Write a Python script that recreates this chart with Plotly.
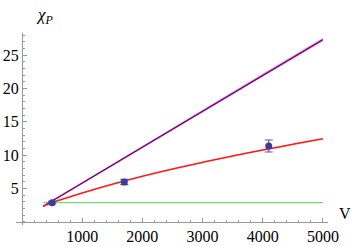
import plotly.graph_objects as go

# data points (V, chi_P, error)
pt_V = [500, 1700, 4100]
pt_chi = [2.85, 5.95, 11.35]
pt_err = [0.2, 0.4, 0.9]

# purple fit line
pur_V = [350, 1000, 2000, 3000, 4000, 5000]
pur_chi = [2.3, 5.8, 11.2, 16.6, 22.0, 27.3]
pur_band = [0.05, 0.1, 0.15, 0.2, 0.25, 0.3]

# red fit curve
red_V = [350, 500, 750, 1000, 1500, 2000, 2500, 3000, 3500, 4000, 4500, 5000]
red_chi = [2.3, 2.85, 3.6, 4.3, 5.6, 6.8, 7.9, 8.9, 9.85, 10.75, 11.6, 12.45]
red_band = [0.05, 0.05, 0.05, 0.06, 0.07, 0.08, 0.09, 0.1, 0.11, 0.12, 0.13, 0.14]

# green constant line
grn_V = [350, 5000]
grn_chi = [2.85, 2.85]

x_ticks = [1000, 2000, 3000, 4000, 5000]
y_ticks = [5, 10, 15, 20, 25]

XR = [-100, 5085]
YR = [-0.5, 28.3]

fig = go.Figure()

def band(xs, ys, w, color):
    up = [y + d for y, d in zip(ys, w)]
    lo = [y - d for y, d in zip(ys, w)]
    fig.add_trace(go.Scatter(x=xs + xs[::-1], y=up + lo[::-1], mode="lines", fill="toself",
                             fillcolor=color, line=dict(width=0), hoverinfo="skip",
                             showlegend=False))

band(pur_V, pur_chi, pur_band, "rgba(190,120,200,0.45)")
band(red_V, red_chi, red_band, "rgba(255,150,150,0.45)")

fig.add_trace(go.Scatter(x=grn_V, y=grn_chi, mode="lines",
                         line=dict(color="#4cd94c", width=1), showlegend=False))
fig.add_trace(go.Scatter(x=pur_V, y=pur_chi, mode="lines",
                         line=dict(color="#800080", width=1.5), showlegend=False))
fig.add_trace(go.Scatter(x=red_V, y=red_chi, mode="lines", line_shape="spline",
                         line=dict(color="#ff1a1a", width=1.5), showlegend=False))
fig.add_trace(go.Scatter(x=pt_V, y=pt_chi, mode="markers",
                         marker=dict(color="#3d3d99", size=7),
                         error_y=dict(type="data", array=pt_err, color="#5a5aaa",
                                      thickness=1.2, width=4),
                         showlegend=False))

font = dict(family="Liberation Serif, Times New Roman, Times, serif", size=16, color="#000")

fig.update_layout(
    width=357, height=246,
    margin=dict(l=16, r=29, t=33, b=21),
    paper_bgcolor="white", plot_bgcolor="white",
    font=font,
    xaxis=dict(range=XR, showgrid=False, zeroline=False, showline=True, automargin=False,
               linecolor="#999", linewidth=1, anchor="free",
               position=(0 - YR[0]) / (YR[1] - YR[0]),
               tickvals=x_ticks, ticks="inside", ticklen=4, tickcolor="#999",
               minor=dict(dtick=200, tick0=0, ticks="inside", ticklen=2, tickcolor="#999"),
               tickfont=font),
    yaxis=dict(range=YR, showgrid=False, zeroline=False, showline=True, automargin=False,
               linecolor="#999", linewidth=1, anchor="free",
               position=(0 - XR[0]) / (XR[1] - XR[0]),
               tickvals=y_ticks, ticks="inside", ticklen=4, tickcolor="#999",
               minor=dict(dtick=1, tick0=0, ticks="inside", ticklen=2, tickcolor="#999"),
               tickfont=font),
    annotations=[
        dict(text="<i>χ</i><sub><i>P</i></sub>", x=0.02, y=1.0, xref="paper", yref="paper",
             xanchor="left", yanchor="bottom", xshift=12, yshift=4, showarrow=False,
             font=dict(family="Liberation Serif, Times New Roman, Times, serif", size=17, color="#000")),
        dict(text="V", x=1.0, y=(0 - YR[0]) / (YR[1] - YR[0]), xref="paper", yref="paper",
             xanchor="center", yanchor="bottom", xshift=17, yshift=-2, showarrow=False, font=font),
    ],
)

fig.write_html("out.html", config={"displayModeBar": False},
               post_script="document.body.style.margin='0';")
